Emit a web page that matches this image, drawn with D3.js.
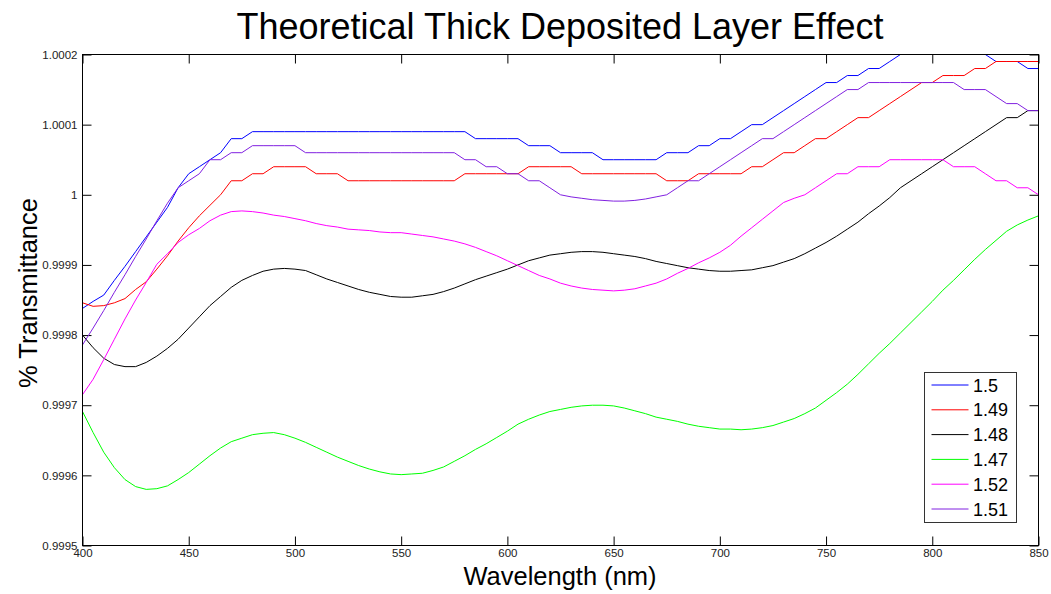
<!DOCTYPE html>
<html><head><meta charset="utf-8">
<script src="https://cdn.jsdelivr.net/npm/d3@7"></script>
<style>
body{margin:0;background:#fff;}
svg text{font-family:"Liberation Sans",Arial,Helvetica,sans-serif;}
</style></head><body>
<svg id="chart" width="1051" height="594"></svg>
<script>
const wavelengths = [400,405,410,415,420,425,430,435,440,445,450,455,460,465,470,475,480,485,490,495,
500,505,510,515,520,525,530,535,540,545,550,555,560,565,570,575,580,585,590,595,
600,605,610,615,620,625,630,635,640,645,650,655,660,665,670,675,680,685,690,695,
700,705,710,715,720,725,730,735,740,745,750,755,760,765,770,775,780,785,790,795,
800,805,810,815,820,825,830,835,840,845,850];

const n150 = [0.999838,0.999848,0.999857,0.999878,0.999898,0.999919,0.99994,0.999961,0.999982,1.00001,
1.00003,1.00004,1.00005,1.00006,1.00008,1.00008,1.00009,1.00009,1.00009,1.00009,
1.00009,1.00009,1.00009,1.00009,1.00009,1.00009,1.00009,1.00009,1.00009,1.00009,
1.00009,1.00009,1.00009,1.00009,1.00009,1.00009,1.00009,1.00008,1.00008,1.00008,
1.00008,1.00008,1.00007,1.00007,1.00007,1.00006,1.00006,1.00006,1.00006,1.00005,
1.00005,1.00005,1.00005,1.00005,1.00005,1.00006,1.00006,1.00006,1.00007,1.00007,
1.00008,1.00008,1.00009,1.0001,1.0001,1.00011,1.00012,1.00013,1.00014,1.00015,
1.00016,1.00016,1.00017,1.00017,1.00018,1.00018,1.00019,1.0002,1.00021,1.00021,
1.00022,1.00022,1.00022,1.00022,1.00021,1.0002,1.00019,1.00019,1.00019,1.00018,1.00018];

const n149 = [0.999846,0.999841,0.999842,0.999846,0.999852,0.999865,0.999876,0.999894,0.999913,0.999934,
0.999953,0.99997,0.999985,1.0,1.00002,1.00002,1.00003,1.00003,1.00004,1.00004,
1.00004,1.00004,1.00003,1.00003,1.00003,1.00002,1.00002,1.00002,1.00002,1.00002,
1.00002,1.00002,1.00002,1.00002,1.00002,1.00002,1.00003,1.00003,1.00003,1.00003,
1.00003,1.00003,1.00004,1.00004,1.00004,1.00004,1.00004,1.00003,1.00003,1.00003,
1.00003,1.00003,1.00003,1.00003,1.00003,1.00002,1.00002,1.00002,1.00003,1.00003,
1.00003,1.00003,1.00003,1.00004,1.00004,1.00005,1.00006,1.00006,1.00007,1.00008,
1.00008,1.00009,1.0001,1.00011,1.00011,1.00012,1.00013,1.00014,1.00015,1.00016,
1.00016,1.00017,1.00017,1.00017,1.00018,1.00018,1.00019,1.00019,1.00019,1.00019,1.00019];

const n148 = [0.9998,0.999782,0.999767,0.999758,0.999755,0.999755,0.999761,0.99977,0.999781,0.999794,
0.99981,0.999826,0.999842,0.999855,0.999868,0.999878,0.999885,0.999891,0.999894,0.999895,
0.999894,0.999892,0.999886,0.99988,0.999875,0.99987,0.999865,0.999861,0.999858,0.999855,
0.999854,0.999854,0.999856,0.999858,0.999862,0.999867,0.999873,0.999879,0.999884,0.999889,
0.999894,0.9999,0.999906,0.99991,0.999914,0.999916,0.999918,0.999919,0.999919,0.999918,
0.999916,0.999914,0.999912,0.999909,0.999905,0.999902,0.999899,0.999896,0.999894,0.999892,
0.999891,0.999891,0.999892,0.999893,0.999896,0.999899,0.999904,0.999909,0.999916,0.999924,
0.999932,0.999941,0.999951,0.999961,0.999973,0.999984,0.999996,1.00001,1.00002,1.00003,
1.00004,1.00005,1.00006,1.00007,1.00008,1.00009,1.0001,1.00011,1.00011,1.00012,1.00012];

const n147 = [0.999691,0.999661,0.999633,0.999611,0.999594,0.999584,0.99958,0.999581,0.999585,0.999594,
0.999604,0.999616,0.999628,0.999639,0.999648,0.999653,0.999658,0.99966,0.999661,0.999658,
0.999653,0.999647,0.99964,0.999633,0.999626,0.99962,0.999614,0.999609,0.999605,0.999602,
0.999601,0.999602,0.999603,0.999607,0.999612,0.99962,0.999628,0.999637,0.999645,0.999654,
0.999663,0.999673,0.99968,0.999686,0.999691,0.999694,0.999697,0.999699,0.9997,0.9997,
0.999699,0.999696,0.999692,0.999688,0.999683,0.99968,0.999677,0.999673,0.99967,0.999668,
0.999666,0.999666,0.999665,0.999666,0.999668,0.999671,0.999676,0.999681,0.999688,0.999696,
0.999707,0.999718,0.99973,0.999744,0.999759,0.999774,0.999788,0.999803,0.999818,0.999833,
0.999848,0.999864,0.999878,0.999893,0.999908,0.999922,0.999935,0.999948,0.999957,0.999964,0.99997];

const n152 = [0.999715,0.999737,0.999765,0.999794,0.999823,0.99985,0.999875,0.999901,0.999916,0.999932,
0.999943,0.999952,0.999963,0.999971,0.999976,0.999977,0.999976,0.999974,0.999971,0.999969,
0.999966,0.999963,0.999959,0.999956,0.999954,0.999951,0.99995,0.999949,0.999947,0.999946,
0.999946,0.999944,0.999942,0.99994,0.999937,0.999934,0.99993,0.999925,0.999919,0.999913,
0.999906,0.999899,0.999892,0.999885,0.99988,0.999874,0.99987,0.999867,0.999865,0.999864,
0.999863,0.999864,0.999866,0.99987,0.999874,0.99988,0.999888,0.999895,0.999903,0.99991,
0.999918,0.999928,0.999941,0.999953,0.999965,0.999977,0.999989,0.999995,1.0,1.00001,
1.00002,1.00003,1.00003,1.00004,1.00004,1.00004,1.00005,1.00005,1.00005,1.00005,
1.00005,1.00005,1.00004,1.00004,1.00004,1.00003,1.00002,1.00002,1.00001,1.00001,1.0];

const n151 = [0.999786,0.99981,0.999835,0.999861,0.999886,0.999912,0.999937,0.999963,0.999988,1.00001,
1.00002,1.00003,1.00005,1.00005,1.00006,1.00006,1.00007,1.00007,1.00007,1.00007,
1.00007,1.00006,1.00006,1.00006,1.00006,1.00006,1.00006,1.00006,1.00006,1.00006,
1.00006,1.00006,1.00006,1.00006,1.00006,1.00006,1.00005,1.00005,1.00004,1.00004,
1.00003,1.00003,1.00002,1.00002,1.00001,1.0,0.999997,0.999995,0.999993,0.999992,
0.999991,0.999991,0.999992,0.999994,0.999997,1.0,1.00001,1.00002,1.00002,1.00003,
1.00004,1.00005,1.00006,1.00007,1.00008,1.00008,1.00009,1.0001,1.00011,1.00012,
1.00013,1.00014,1.00015,1.00015,1.00016,1.00016,1.00016,1.00016,1.00016,1.00016,
1.00016,1.00016,1.00016,1.00015,1.00015,1.00015,1.00014,1.00013,1.00013,1.00012,1.00012];

const seriesNames = ["1.5","1.49","1.48","1.47","1.52","1.51"];
const seriesValues = [n150, n149, n148, n147, n152, n151];
const seriesColors = ["#0000ff","#ff0000","#000000","#00ff00","#ff00ff","#8020e0"];

const xTickValues = [400,450,500,550,600,650,700,750,800,850];
const yTickValues = [0.9995,0.9996,0.9997,0.9998,0.9999,1,1.0001,1.0002];
const yTickLabels = ["0.9995","0.9996","0.9997","0.9998","0.9999","1","1.0001","1.0002"];

const titleText = "Theoretical Thick Deposited Layer Effect";
const xLabelText = "Wavelength (nm)";
const yLabelText = "% Transmittance";

const svg = d3.select("#chart");
const mLeft = 82.5, mTop = 54.5, W = 956, H = 491;
const x = d3.scaleLinear().domain([400, 850]).range([0, W]);
const y = d3.scaleLinear().domain([0.9995, 1.0002]).range([H, 0]);

const g = svg.append("g").attr("transform", `translate(${mLeft},${mTop})`);

g.append("defs").append("clipPath").attr("id", "plotclip")
  .append("rect").attr("x", 0).attr("y", 0).attr("width", W).attr("height", H);

function styleAxis(sel) {
  sel.select(".domain").remove();
  sel.selectAll(".tick line").attr("stroke", "#000");
  sel.selectAll(".tick text").attr("fill", "#222").style("font-size", "11.5px");
}

g.append("g").attr("transform", `translate(0,${H})`)
  .call(d3.axisBottom(x).tickValues(xTickValues).tickSize(-9).tickSizeOuter(0).tickPadding(3).tickFormat(d3.format("d")))
  .call(styleAxis);
g.append("g")
  .call(d3.axisTop(x).tickValues(xTickValues).tickSize(-9).tickSizeOuter(0).tickFormat(""))
  .call(styleAxis);
g.append("g")
  .call(d3.axisLeft(y).tickValues(yTickValues).tickSize(-9).tickSizeOuter(0).tickPadding(5)
    .tickFormat((d, i) => yTickLabels[i]))
  .call(styleAxis);
g.append("g").attr("transform", `translate(${W},0)`)
  .call(d3.axisRight(y).tickValues(yTickValues).tickSize(-9).tickSizeOuter(0).tickFormat(""))
  .call(styleAxis);

const line = d3.line().x(d => x(d[0])).y(d => y(d[1]));
const plot = g.append("g").attr("clip-path", "url(#plotclip)");
seriesValues.forEach((vals, i) => {
  plot.append("path")
    .datum(wavelengths.map((w, k) => [w, vals[k]]))
    .attr("fill", "none")
    .attr("stroke", seriesColors[i])
    .attr("stroke-width", 1)
    .attr("d", line);
});

g.append("rect").attr("x", 0).attr("y", 0).attr("width", W).attr("height", H)
  .attr("fill", "none").attr("stroke", "#000").attr("stroke-width", 1);

// Legend
const leg = svg.append("g").attr("transform", "translate(924.5,372.5)");
leg.append("rect").attr("width", 92).attr("height", 150)
  .attr("fill", "#fff").attr("stroke", "#333").attr("stroke-width", 1);
seriesNames.forEach((name, i) => {
  const ry = 12.5 + i * 24.8;
  leg.append("line").attr("x1", 7).attr("x2", 44).attr("y1", ry).attr("y2", ry)
    .attr("stroke", seriesColors[i]).attr("stroke-width", 1);
  leg.append("text").attr("x", 48.5).attr("y", ry + 6.5).text(name)
    .style("font-size", "18px").attr("fill", "#000");
});

svg.append("text").attr("x", 560).attr("y", 39).attr("text-anchor", "middle")
  .style("font-size", "36px").attr("fill", "#000").text(titleText);
svg.append("text").attr("x", 560).attr("y", 585).attr("text-anchor", "middle")
  .style("font-size", "25.5px").attr("fill", "#000").text(xLabelText);
svg.append("text").attr("transform", "translate(37,293) rotate(-90)").attr("text-anchor", "middle")
  .style("font-size", "25.5px").attr("fill", "#000").text(yLabelText);
</script>
</body></html>
